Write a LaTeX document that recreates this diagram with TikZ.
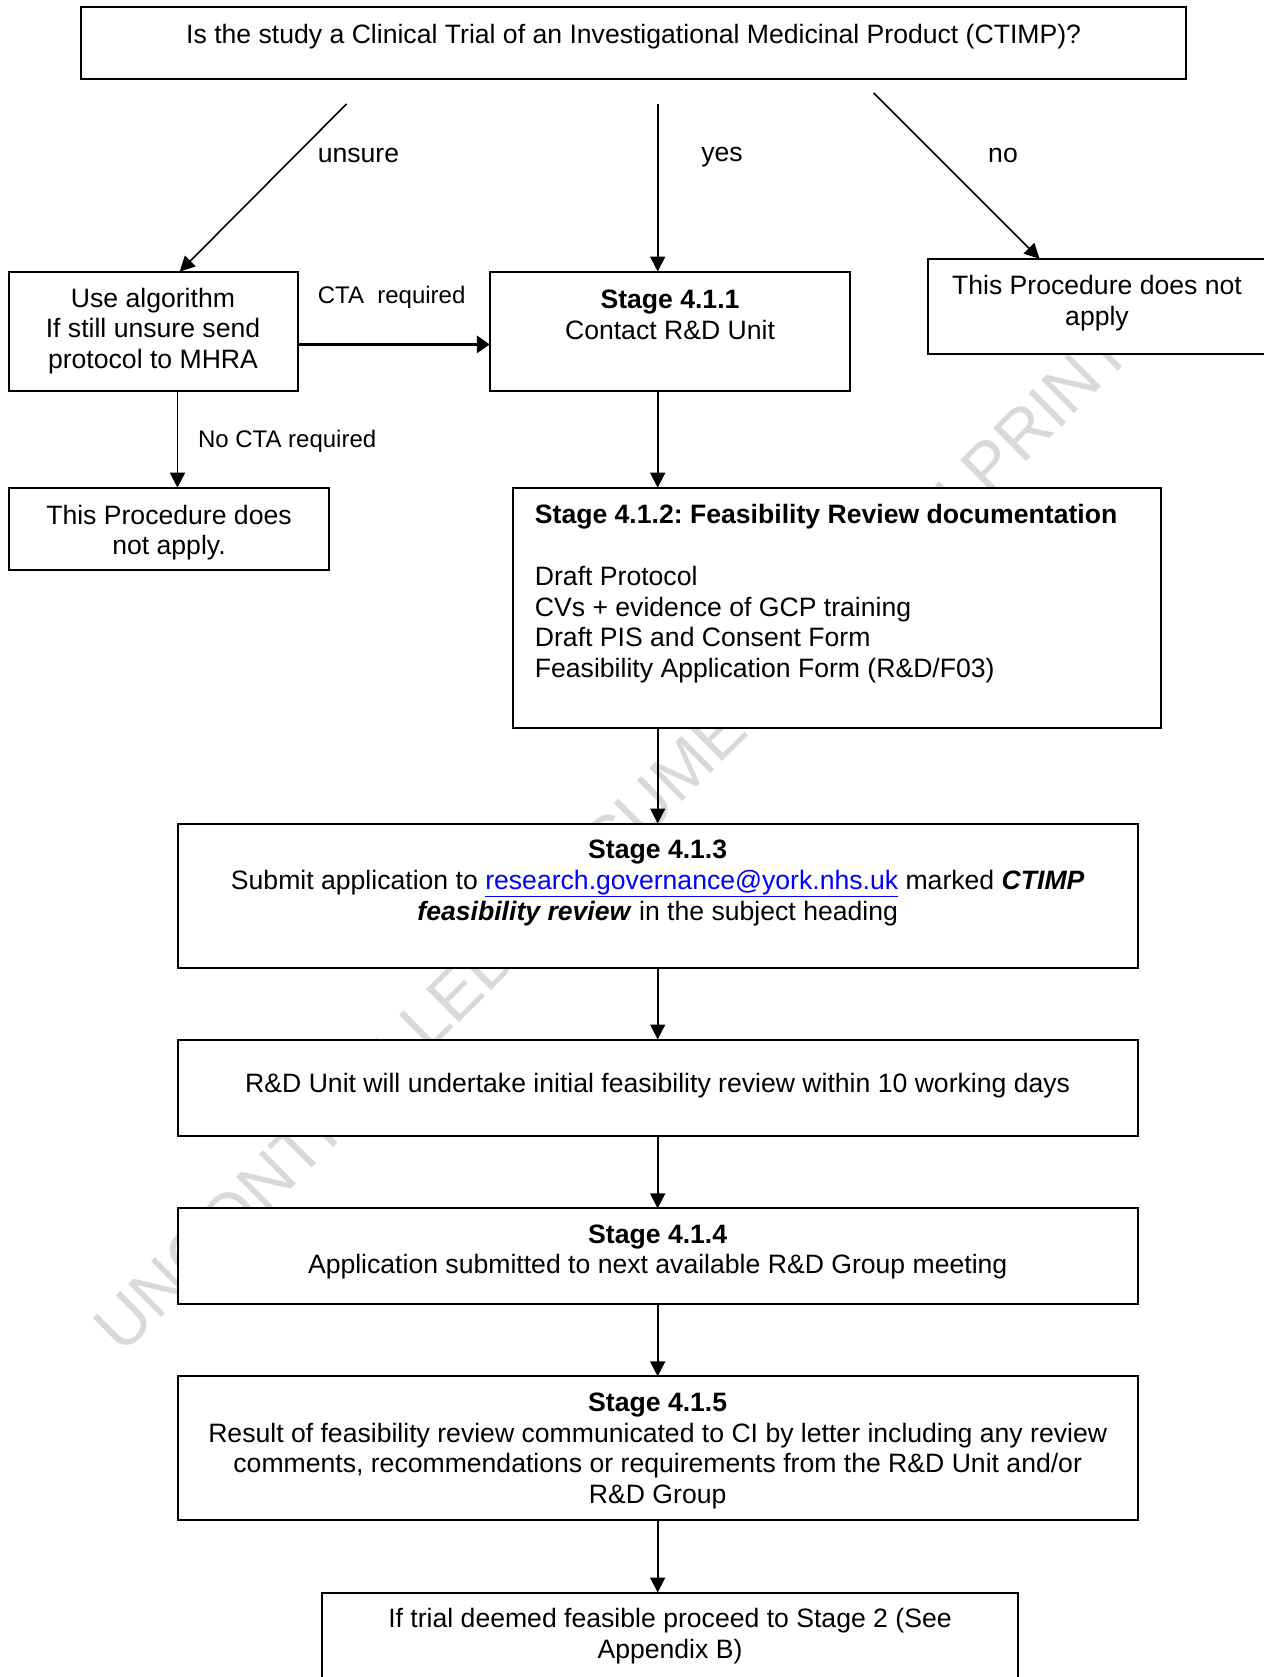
\documentclass[tikz,border=0pt]{standalone}
\usepackage{fontspec}
\setmainfont{Liberation Sans}
\usetikzlibrary{arrows.meta}
\definecolor{linkblue}{HTML}{0000FF}
\definecolor{wmgray}{HTML}{D9D9D9}
\frenchspacing
\begin{document}
\begin{tikzpicture}[x=1pt,y=-1pt,
  box/.style={draw=black, line width=2pt, fill=white, inner sep=0pt, outer sep=0pt, rectangle},
  txt/.style={inner sep=0pt, align=center, font=\fontsize{26.6}{30.7}\selectfont},
  lbl/.style={inner sep=0pt, font=\fontsize{26.6}{30.7}\selectfont},
  slbl/.style={inner sep=0pt, font=\fontsize{24}{28}\selectfont},
  arr/.style={line width=1.6pt, -{Triangle[length=15pt,width=15pt]}},
  thickarr/.style={line width=3.5pt, -{Triangle[length=13pt,width=17pt]}},
  wm/.style={inner sep=0pt, text=wmgray, font=\fontsize{68}{80}\selectfont}
]
\useasboundingbox (0,0) rectangle (1263,1677);
\fill[white] (0,0) rectangle (1263,1677);

% watermark
\node[wm, rotate=44.7] (wmark) at (646,805) {UNCONTROLLED DOCUMENT WHEN PRINTED};

% boxes
\node[box, minimum width=1104.7pt, minimum height=71.6pt] (q) at (633.65,43.3) {};
\node[box, minimum width=289.8pt, minimum height=119.8pt] (alg) at (153.5,331.5) {};
\node[box, minimum width=360.4pt, minimum height=119.8pt] (s411) at (670,331.5) {};
\node[box, minimum width=337.7pt, minimum height=95.2pt] (noa) at (1097.15,306.4) {};
\node[box, minimum width=320.8pt, minimum height=82.3pt] (nob) at (169,528.85) {};
\node[box, minimum width=648.1pt, minimum height=240.6pt] (s412) at (837.35,608) {};
\node[box, minimum width=960.4pt, minimum height=144.3pt] (s413) at (657.7,895.65) {};
\node[box, minimum width=960.4pt, minimum height=96.2pt] (rd) at (657.7,1087.6) {};
\node[box, minimum width=960.4pt, minimum height=95.2pt] (s414) at (657.7,1256) {};
\node[box, minimum width=960.4pt, minimum height=143.3pt] (s415) at (657.7,1448) {};
\node[box, minimum width=696.2pt, minimum height=107pt] (fin) at (670,1646) {};

% texts
\node[txt] (tq) at (633.65,37) {Is the study a Clinical Trial of an Investigational Medicinal Product (CTIMP)?};
\node[txt] (talg) at (153,331) {Use algorithm\\If still unsure send\\protocol to MHRA};
\node[txt] (t411) at (670,315) {\textbf{Stage 4.1.1}\\Contact R\&D Unit};
\node[txt] (tnoa) at (1097,303) {This Procedure does not\\apply};
\node[txt] (tnob) at (169,532.5) {This Procedure does\\not apply.};
\node[txt, align=left, anchor=north west] (t412) at (534.7,504.5) {\textbf{Stage 4.1.2: Feasibility Review documentation}\\[30.7pt]Draft Protocol\\CVs + evidence of GCP training\\Draft PIS and Consent Form\\Feasibility Application Form (R\&D/F03)};
\node[txt] (t413) at (657.7,883) {\textbf{Stage 4.1.3}\\Submit application to \textcolor{linkblue}{\underline{research.governance@york.nhs.uk}} marked \textbf{\textit{CTIMP}}\\\textbf{\textit{feasibility review}} in the subject heading};
\node[txt] (trd) at (657.7,1085.5) {R\&D Unit will undertake initial feasibility review within 10 working days};
\node[txt] (t414) at (657.7,1252) {\textbf{Stage 4.1.4}\\Application submitted to next available R\&D Group meeting};
\node[txt] (t415) at (657.7,1451) {\textbf{Stage 4.1.5}\\Result of feasibility review communicated to CI by letter including any review\\comments, recommendations or requirements from the R\&D Unit and/or\\R\&D Group};
\node[txt] (tfin) at (670,1636) {If trial deemed feasible proceed to Stage 2 (See\\Appendix B)};

% branch labels
\node[lbl, anchor=west] (lun) at (317.6,155) {unsure};
\node[lbl] (lyes) at (722,157) {yes};
\node[lbl] (lno) at (1003,155) {no};
\node[slbl, anchor=west] (lcta) at (317.6,297) {CTA\ \ required};
\node[slbl, anchor=west] (lncta) at (197.8,441.5) {No CTA required};

% connectors
\coordinate (uS) at (346.5,104);
\coordinate (uE) at (179.7,0);
\coordinate (yS) at (657.7,104);
\coordinate (nS) at (873.7,93);
\coordinate (nE) at (1039.5,0);
\coordinate (ctaY) at (0,344.4);
\coordinate (ncX) at (177.5,0);
\coordinate (cX) at (657.7,0);

\draw[arr] (uS) -- (uE |- alg.north);
\draw[arr] (yS) -- (yS |- s411.north);
\draw[arr] (nS) -- (nE |- noa.north);
\draw[thickarr] (alg.east |- ctaY) -- (s411.west |- ctaY);
\draw[arr] (ncX |- alg.south) -- (ncX |- nob.north);
\draw[arr] (cX |- s411.south) -- (cX |- s412.north);
\draw[arr] (cX |- s412.south) -- (cX |- s413.north);
\draw[arr] (cX |- s413.south) -- (cX |- rd.north);
\draw[arr] (cX |- rd.south) -- (cX |- s414.north);
\draw[arr] (cX |- s414.south) -- (cX |- s415.north);
\draw[arr] (cX |- s415.south) -- (cX |- fin.north);
\end{tikzpicture}
\end{document}
